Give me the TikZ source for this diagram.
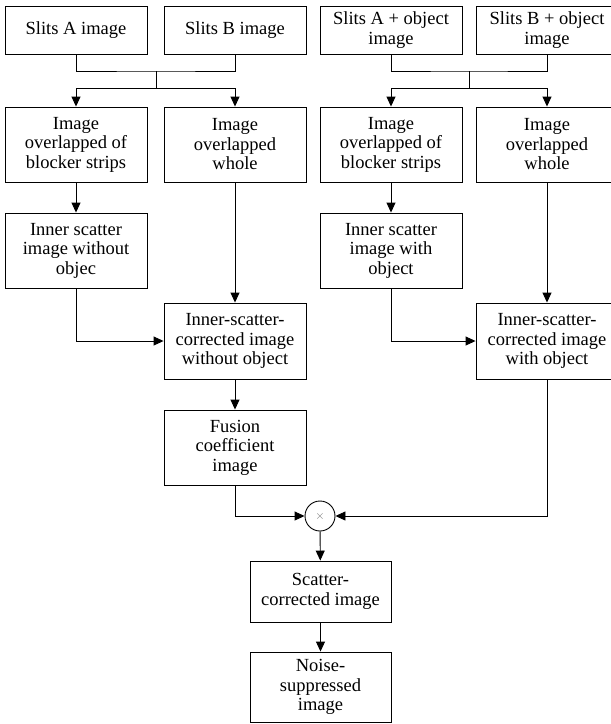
\documentclass[tikz,border=0pt]{standalone}
\usepackage{fontspec}
\setmainfont{Liberation Serif}
\usetikzlibrary{arrows.meta}
\tikzset{
  box/.style={draw=black, line width=0.9pt, rectangle, align=center, inner sep=1pt,
    font=\fontsize{18.5}{19.5}\selectfont, minimum width=142pt},
  conn/.style={draw=black, line width=0.9pt},
  arr/.style={conn, -{Triangle[length=10pt,width=9pt]}}
}
\begin{document}
\begin{tikzpicture}[x=1pt,y=-1pt]
\useasboundingbox (0,0) rectangle (611,724);
% row 1
\node[box, minimum height=48pt] (sa) at (76,30) {Slits A image};
\node[box, minimum height=48pt] (sb) at (235,30) {Slits B image};
\node[box, minimum height=48pt] (sao) at (391,30) {Slits A + object\\image};
\node[box, minimum height=48pt] (sbo) at (547,30) {Slits B + object\\image};
% row 2
\node[box, minimum height=75pt] (ob1) at (76,144.5) {Image\\overlapped of\\blocker strips};
\node[box, minimum height=75pt] (ow1) at (235,144.5) {Image\\overlapped\\whole};
\node[box, minimum height=75pt] (ob2) at (391,144.5) {Image\\overlapped of\\blocker strips};
\node[box, minimum height=75pt] (ow2) at (547,144.5) {Image\\overlapped\\whole};
% row 3
\node[box, minimum height=75pt] (is1) at (76,250.5) {Inner scatter\\image without\\objec};
\node[box, minimum height=75pt] (is2) at (391,250.5) {Inner scatter\\image with\\object};
% row 4
\node[box, minimum height=76pt] (ic1) at (235,341) {Inner-scatter-\\corrected image\\without object};
\node[box, minimum height=76pt] (ic2) at (547,341) {Inner-scatter-\\corrected image\\with object};
% fusion
\node[box, minimum height=75pt] (fu) at (235,447.5) {Fusion\\coefficient\\image};
% multiply
\node[draw=black, line width=0.9pt, circle, minimum size=30pt, inner sep=0pt,
  font=\fontsize{13}{14}\selectfont, text=black!55] (mul) at (320,516) {$\times$};
% scatter & noise
\node[box, minimum width=141pt, minimum height=61pt] (sc) at (320.5,591.5) {Scatter-\\corrected image};
\node[box, minimum width=141pt, minimum height=70pt] (ns) at (320.5,687) {Noise-\\suppressed\\image};
% junctions
\coordinate (j1) at (156,71);
\coordinate (j2) at (156,88);
\coordinate (j3) at (469,71);
\coordinate (j4) at (469,88);
\draw[conn] (sa.south) |- (j1) -| (sb.south);
\draw[conn] (j1) -- (j2);
\draw[arr] (j2) -| (ob1.north);
\draw[arr] (j2) -| (ow1.north);
\draw[conn] (sao.south) |- (j3) -| (sbo.south);
\draw[conn] (j3) -- (j4);
\draw[arr] (j4) -| (ob2.north);
\draw[arr] (j4) -| (ow2.north);
% columns
\draw[arr] (ob1) -- (is1);
\draw[arr] (ow1) -- (ic1);
\draw[arr] (is1.south) |- (ic1.west);
\draw[arr] (ob2) -- (is2);
\draw[arr] (ow2.south) -- (ic2.north);
\draw[arr] (is2.south) |- (ic2.west);
\draw[arr] (ic1) -- (fu);
\draw[arr] (fu.south) |- (mul.west);
\draw[arr] (ic2.south) |- (mul.east);
\draw[arr] (mul) -- (sc);
\draw[arr] (sc) -- (ns);
\end{tikzpicture}
\end{document}
